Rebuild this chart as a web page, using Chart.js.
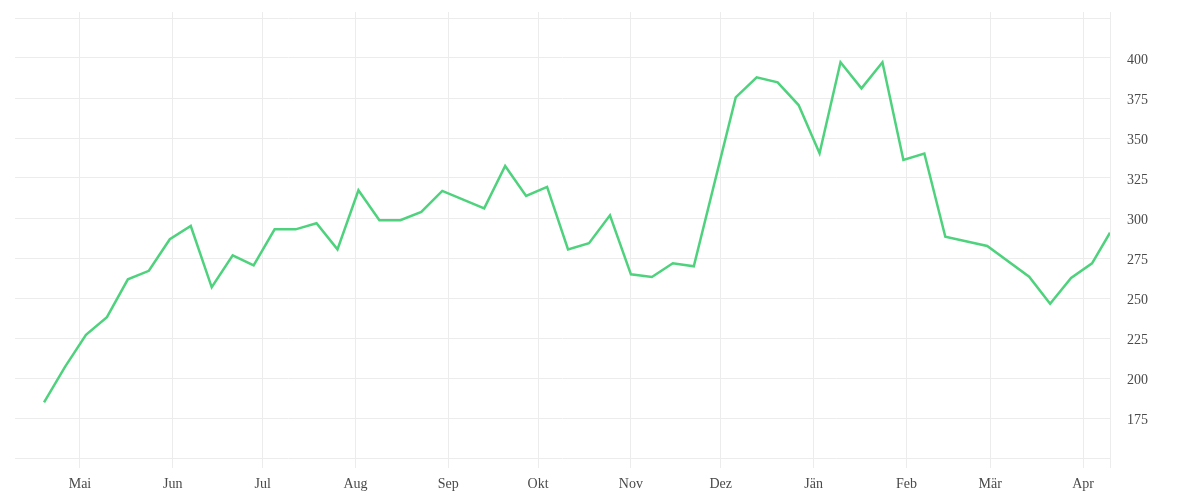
<!DOCTYPE html>
<html>
<head>
<meta charset="utf-8">
<script src="https://cdn.jsdelivr.net/npm/chart.js@4.4.1/dist/chart.umd.min.js"></script>
<style>
  html, body { margin: 0; padding: 0; background: #fff; }
  #wrap { width: 1200px; height: 500px; position: relative; }
</style>
</head>
<body>
<div id="wrap"><canvas id="weeklyChart"></canvas></div>
<script>
const weekDates = [
    '2018-04-19', '2018-04-26', '2018-05-03', '2018-05-10', '2018-05-17', '2018-05-24', '2018-05-31',
    '2018-06-07', '2018-06-14', '2018-06-21', '2018-06-28',
    '2018-07-05', '2018-07-12', '2018-07-19', '2018-07-26',
    '2018-08-02', '2018-08-09', '2018-08-16', '2018-08-23', '2018-08-30',
    '2018-09-13', '2018-09-20', '2018-09-27',
    '2018-10-04', '2018-10-11', '2018-10-18', '2018-10-25',
    '2018-11-01', '2018-11-08', '2018-11-15', '2018-11-22',
    '2018-12-06', '2018-12-13', '2018-12-20', '2018-12-27',
    '2019-01-03', '2019-01-10', '2019-01-17', '2019-01-24', '2019-01-31',
    '2019-02-07', '2019-02-14', '2019-02-28',
    '2019-03-14', '2019-03-21', '2019-03-28',
    '2019-04-04', '2019-04-10'
];
const weekValues = [
    184.8, 207, 227, 238, 261.7, 267, 286.7,
    295, 256.7, 276.7, 270.4,
    292.9, 292.9, 296.7, 280.4,
    317.3, 298.6, 298.6, 303.75, 316.9,
    306, 332.5, 313.75,
    319.4, 280.4, 284.2, 301.7,
    264.8, 263.1, 271.7, 269.8,
    375.4, 387.9, 384.8, 370.6,
    340.4, 397.3, 381, 397.3, 336.25,
    340.3, 288.3, 282.5,
    263.3, 246.4, 262.5,
    271.7, 290.8
];
const monthDates = [
    '2018-05-01', '2018-06-01', '2018-07-01', '2018-08-01', '2018-09-01', '2018-10-01',
    '2018-11-01', '2018-12-01', '2019-01-01', '2019-02-01', '2019-03-01', '2019-04-01'
];
const monthLabels = ['Mai', 'Jun', 'Jul', 'Aug', 'Sep', 'Okt', 'Nov', 'Dez', 'Jän', 'Feb', 'Mär', 'Apr'];
const yTicks = [150, 175, 200, 225, 250, 275, 300, 325, 350, 375, 400, 425];

// days since 1 May 2018
const base = Date.UTC(2018, 4, 1);
function dayOf(s) {
    const p = s.split('-');
    return (Date.UTC(+p[0], +p[1] - 1, +p[2]) - base) / 86400000;
}

const xMin = -21.7;
const xMax = 344;
const monthDays = monthDates.map(dayOf);

const gridColor = '#ececec';
const textColor = '#4a4a4a';

new Chart(document.getElementById('weeklyChart').getContext('2d'), {
    type: 'line',
    data: {
        datasets: [{
            data: weekDates.map((d, i) => ({ x: dayOf(d), y: weekValues[i] })),
            borderColor: '#4fd27d',
            borderWidth: 2.5,
            pointRadius: 0,
            tension: 0,
            fill: false
        }]
    },
    options: {
        responsive: true,
        maintainAspectRatio: false,
        animation: false,
        layout: { padding: { left: 15, top: 12, right: 45, bottom: 0 } },
        plugins: {
            legend: { display: false },
            tooltip: { enabled: false }
        },
        scales: {
            x: {
                type: 'linear',
                min: xMin,
                max: xMax,
                afterBuildTicks: (axis) => {
                    axis.ticks = monthDays.map(v => ({ value: v })).concat([{ value: xMax }]);
                },
                ticks: {
                    autoSkip: false,
                    maxRotation: 0,
                    padding: 9,
                    color: textColor,
                    font: { family: '"Liberation Serif"', size: 14, lineHeight: 1 },
                    callback: (v) => {
                        const i = monthDays.indexOf(v);
                        return i >= 0 ? monthLabels[i] : '';
                    }
                },
                grid: { color: gridColor, tickLength: 10, drawTicks: true },
                border: { display: false }
            },
            y: {
                position: 'right',
                min: 150,
                max: 428.75,
                afterBuildTicks: (axis) => {
                    axis.ticks = yTicks.map(v => ({ value: v }));
                },
                ticks: {
                    padding: 7,
                    color: textColor,
                    font: { family: '"Liberation Serif"', size: 14, lineHeight: 0.36 },
                    // empty first line nudges the number slightly below its grid line
                    callback: (v) => (v === 150 || v === 425) ? '' : ['', String(v)]
                },
                grid: { color: gridColor, drawTicks: true, tickLength: 10, tickColor: 'rgba(0,0,0,0)' },
                border: { display: false }
            }
        }
    }
});
</script>
</body>
</html>
